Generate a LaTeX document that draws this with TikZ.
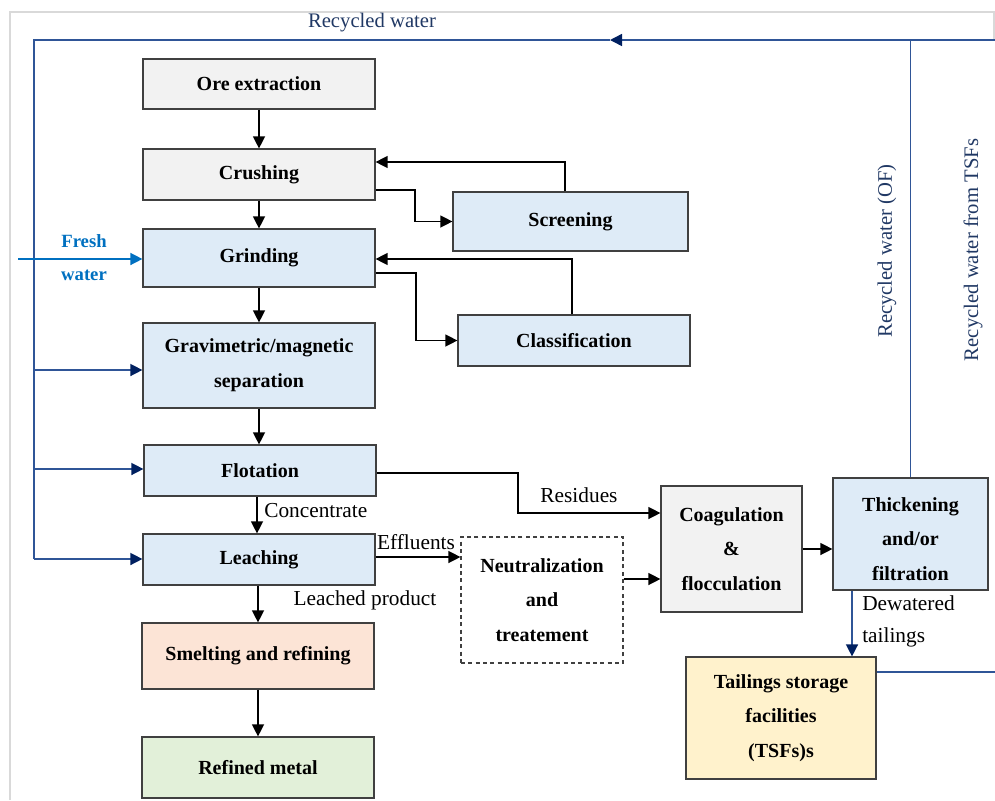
\documentclass[tikz,border=0pt]{standalone}
\usepackage{fontspec}
\setmainfont{Liberation Serif}
\usetikzlibrary{arrows.meta}
\definecolor{boxline}{HTML}{404040}
\definecolor{blueF}{HTML}{DEEBF7}
\definecolor{grayF}{HTML}{F2F2F2}
\definecolor{pinkF}{HTML}{FCE4D6}
\definecolor{greenF}{HTML}{E2F0D9}
\definecolor{yellowF}{HTML}{FFF2CC}
\definecolor{navytext}{HTML}{203864}
\definecolor{bline}{HTML}{2F5597}
\definecolor{tipnavy}{HTML}{002060}
\definecolor{fresh}{HTML}{0070C0}
\definecolor{frame}{HTML}{D9D9D9}
\begin{document}
\begin{tikzpicture}[x=0.75pt,y=-0.75pt,
  box/.style={draw=boxline, line width=0.9pt, inner sep=0pt, align=center,
    font=\bfseries\fontsize{15}{26}\selectfont},
  arr/.style={draw=black, line width=1pt, -{Triangle[length=9pt,width=9pt]}},
  bl/.style={draw=bline, line width=1.1pt},
  barr/.style={draw=bline, line width=1.1pt, -{Triangle[length=9pt,width=9pt,color=tipnavy]}},
  farr/.style={draw=fresh, line width=1.1pt, -{Triangle[length=9pt,width=9pt]}},
  lab/.style={font=\fontsize{16}{19}\selectfont, inner sep=0pt},
  bt/.style={font=\fontsize{15.5}{19}\selectfont, text=navytext, inner sep=0pt},
  ft/.style={font=\bfseries\fontsize{14}{17}\selectfont, text=fresh, inner sep=0pt}]
\useasboundingbox (0,0) rectangle (995,800);
% frame
\draw[frame, line width=1.2pt] (10,800) -- (10,12) -- (994,12) -- (994,40);

% boxes
\node[box, fill=grayF, minimum width=174pt, minimum height=37.5pt] (ore) at (259,84) {Ore extraction};
\node[box, fill=grayF, minimum width=174pt, minimum height=38.25pt] (crush) at (259,174.5) {Crushing};
\node[box, fill=blueF, minimum width=174pt, minimum height=43.5pt] (grind) at (259,258) {Grinding};
\node[box, fill=blueF, minimum width=174pt, minimum height=63.75pt] (grav) at (259,365.5) {Gravimetric/magnetic\\separation};
\node[box, fill=blueF, minimum width=174pt, minimum height=38.25pt] (flot) at (260,470.5) {Flotation};
\node[box, fill=blueF, minimum width=174pt, minimum height=38.25pt] (leach) at (259,559.5) {Leaching};
\node[box, fill=pinkF, minimum width=174pt, minimum height=49.5pt] (smelt) at (258,656) {Smelting and refining};
\node[box, fill=greenF, minimum width=174pt, minimum height=45.75pt] (metal) at (258,767.5) {Refined metal};
\node[box, fill=blueF, minimum width=176.25pt, minimum height=44.25pt] (screen) at (570.5,221.5) {Screening};
\node[box, fill=blueF, minimum width=174pt, minimum height=38.25pt] (class) at (574,340.5) {Classification};
\node[box, fill=white, dashed, dash pattern=on 3pt off 2.5pt, minimum width=121.5pt, minimum height=94.5pt] (neut) at (542,600) {Neutralization\\and\\treatement};
\node[box, fill=grayF, minimum width=105.75pt, minimum height=94.5pt] (coag) at (731.5,549) {Coagulation\\\&\\flocculation};
\node[box, fill=blueF, minimum width=116.25pt, minimum height=84pt] (thick) at (910.5,534) {};
\node[font=\bfseries\fontsize{15}{26}\selectfont, align=center, inner sep=0pt] (thicktxt) at (910.5,539) {Thickening\\and/or\\filtration};
\node[box, fill=yellowF, minimum width=142.5pt, minimum height=91.5pt] (tsf) at (781,718) {Tailings storage\\facilities\\(TSFs)s};

% main chain
\draw[arr] (ore) -- (crush);
\draw[arr] (crush) -- (grind);
\draw[arr] (grind) -- (grav);
\draw[arr] (grav) -- (flot.north -| grav.south);
\draw[arr] (flot.south -| 257,0) -- (leach.north -| 257,0);
\draw[arr] (leach.south -| 258,0) -- (smelt.north -| 258,0);
\draw[arr] (smelt) -- (metal);

% side loops
\draw[arr] (crush.east |- 0,190) -- (415,190) |- (screen.west);
\draw[arr] (screen.north -| 565,0) |- (crush.east |- 0,162);
\draw[arr] (grind.east |- 0,273) -- (416,273) |- (class.west);
\draw[arr] (class.north -| 572,0) |- (grind.east |- 0,259);

% downstream
\draw[arr] (flot.east |- 0,473) -- (518,473) |- (coag.west |- 0,513);
\draw[arr] (leach.east |- 0,557) -- (neut.west |- 0,557);
\draw[arr] (neut.east |- 0,579) -- (coag.west |- 0,579);
\draw[arr] (coag.east) -- (thick.west |- coag.east);
\draw[barr] (thick.south -| 852,0) -- (tsf.north -| 852,0);

% recycled water loop
\coordinate (tr) at (995.6,40);
\coordinate (rw) at (610,40);
\coordinate (tl) at (34,40);
\coordinate (bl) at (34,559);
\coordinate (tsfr) at (995.6,672);
\draw[bl] (thick.north) -- (thick.north |- tr);
\draw[bl] (tsf.east |- tsfr) -- (tsfr) -- (tr);
\draw[barr] (tr) -- (rw);
\draw[bl] (rw) -- (tl) -- (bl);
\draw[barr] (34,370) -- (grav.west |- 0,370);
\draw[barr] (34,469) -- (flot.west |- 0,469);
\draw[barr] (bl) -- (leach.west |- bl);

% fresh water
\coordinate (fw) at (18,259);
\draw[farr] (fw) -- (grind.west |- fw);
\node[ft] (fresh1) at (84,241) {Fresh};
\node[ft] (fresh2) at (84,275) {water};

% labels
\node[bt] (rwtop) at (372,23) {Recycled water};
\node[bt, rotate=90] (rwof) at (887,251) {Recycled water (OF)};
\node[bt, rotate=90] (rwtsf) at (973,250) {Recycled water from TSFs};
\node[lab, anchor=west] (conc) at (264,511) {Concentrate};
\node[lab] (eff) at (416,542) {Effluents};
\node[lab] (leachp) at (365,600) {Leached product};
\node[lab] (resid) at (579,495) {Residues};
\node[lab, anchor=west] (dew) at (862,603) {Dewatered};
\node[lab, anchor=west] (tail) at (862,637) {tailings};
\end{tikzpicture}
\end{document}
